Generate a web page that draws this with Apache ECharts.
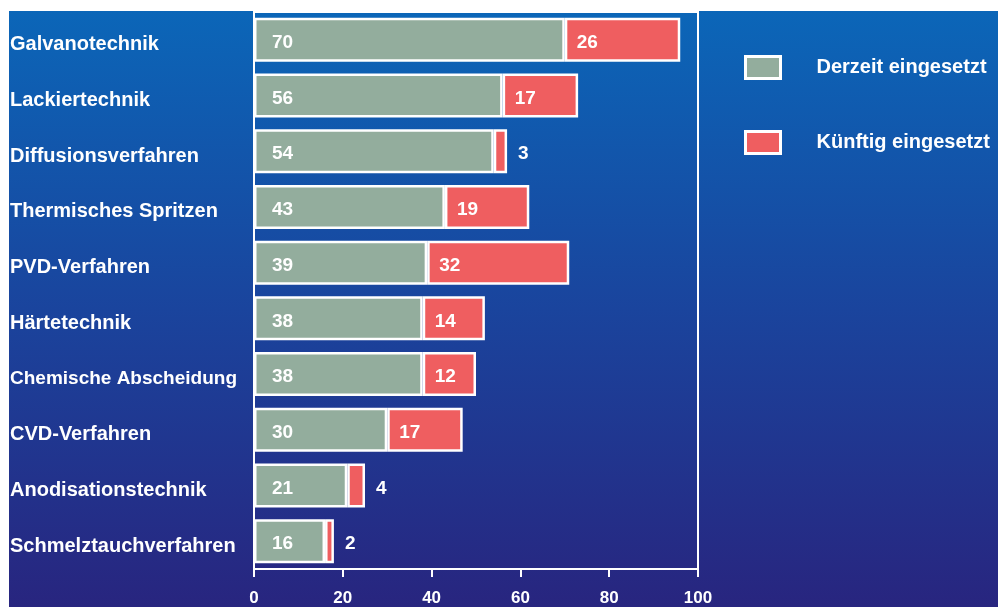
<!DOCTYPE html>
<html>
<head>
<meta charset="utf-8">
<style>
  html, body { margin: 0; padding: 0; background: #ffffff; }
  #chart { width: 998px; height: 607px; }
</style>
<script src="https://cdn.jsdelivr.net/npm/echarts@6/dist/echarts.min.js"></script>
</head>
<body>
<div id="chart"></div>
<script>
// Beschichtungsverfahren: derzeitiger und künftiger Einsatz (Anzahl Nennungen)
const categories = [
  'Galvanotechnik', 'Lackiertechnik', 'Diffusionsverfahren', 'Thermisches Spritzen',
  'PVD-Verfahren', 'Härtetechnik', 'Chemische Abscheidung', 'CVD-Verfahren',
  'Anodisationstechnik', 'Schmelztauchverfahren'
];
const derzeit = [70, 56, 54, 43, 39, 38, 38, 30, 21, 16];
const kuenftig = [26, 17, 3, 19, 32, 14, 12, 17, 4, 2];
const xTicks = [0, 20, 40, 60, 80, 100];

const GREEN = '#93ad9d';
const RED = '#ef5e60';
const FONT = 'Liberation Sans, Arial, sans-serif';
const labelFont = { color: '#fff', fontFamily: FONT, fontWeight: 'bold', fontSize: 19 };

const chart = echarts.init(document.getElementById('chart'), null, { renderer: 'canvas' });

// small segments get their value label outside, to the right
const redData = kuenftig.map(v => v < 8
  ? { value: v, label: { position: 'right', distance: 11 } }
  : { value: v });

chart.setOption({
  backgroundColor: 'transparent',
  animation: false,
  graphic: [{
    type: 'rect',
    z: -100,
    silent: true,
    shape: { x: 9, y: 11, width: 989, height: 596 },
    style: {
      fill: new echarts.graphic.LinearGradient(0, 0, 0, 1, [
        { offset: 0, color: '#0b66b8' },
        { offset: 0.5, color: '#1a449d' },
        { offset: 1, color: '#28257f' }
      ])
    }
  }],
  grid: {
    left: 254, right: 300, top: 12, bottom: 37,
    show: true, borderColor: '#ffffff', borderWidth: 2, backgroundColor: 'transparent'
  },
  legend: {
    orient: 'vertical',
    left: 744, top: 55,
    padding: 0,
    itemWidth: 35, itemHeight: 22, itemGap: 50,
    icon: 'rect',
    selectedMode: false,
    itemStyle: { borderColor: '#fff', borderWidth: 3 },
    textStyle: {
      color: '#fff', fontFamily: FONT,
      fontWeight: 'bold', fontSize: 20, padding: [0, 0, 0, 31]
    },
    data: ['Derzeit eingesetzt', 'Künftig eingesetzt']
  },
  xAxis: {
    type: 'value',
    min: xTicks[0], max: xTicks[xTicks.length - 1], interval: 20,
    splitLine: { show: false },
    axisLine: { show: true, lineStyle: { color: '#fff', width: 2 } },
    axisTick: { show: true, length: 8, lineStyle: { color: '#fff', width: 2 } },
    axisLabel: {
      color: '#fff', fontFamily: FONT,
      fontWeight: 'bold', fontSize: 17, margin: 21
    }
  },
  yAxis: {
    type: 'category',
    inverse: true,
    data: categories,
    axisLine: { show: true, lineStyle: { color: '#fff', width: 2 } },
    axisTick: { show: false },
    axisLabel: {
      align: 'left',
      margin: 244,
      padding: [10, 0, 0, 0],
      color: '#fff',
      fontFamily: FONT,
      fontWeight: 'bold',
      fontSize: 20,
      formatter: v => v === 'Chemische Abscheidung' ? '{s|' + v + '}' : v,
      rich: {
        s: { color: '#fff', fontFamily: FONT, fontWeight: 'bold', fontSize: 19 }
      }
    }
  },
  series: [
    {
      name: 'Derzeit eingesetzt',
      type: 'bar',
      stack: 'total',
      barWidth: 44,
      data: derzeit,
      itemStyle: { color: GREEN, borderColor: '#fff', borderWidth: 2.5 },
      label: Object.assign({ show: true, position: 'insideLeft', distance: 18, offset: [0, 3] }, labelFont)
    },
    {
      name: 'Künftig eingesetzt',
      type: 'bar',
      stack: 'total',
      barWidth: 44,
      data: redData,
      itemStyle: { color: RED, borderColor: '#fff', borderWidth: 2.5 },
      label: Object.assign({ show: true, position: 'insideLeft', distance: 12, offset: [0, 3] }, labelFont)
    }
  ]
});
</script>
</body>
</html>
